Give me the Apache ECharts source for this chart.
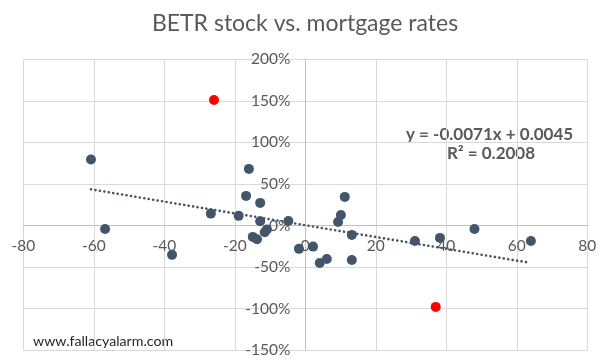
<!DOCTYPE html>
<html><head><meta charset="utf-8">
<script src="https://cdn.jsdelivr.net/npm/echarts@6/dist/echarts.min.js"></script>
<style>html,body{margin:0;padding:0;background:#fff}#c{width:610px;height:363px}</style>
</head><body><div id="c"></div>
<script>
// Data (x: mortgage rate change, y: BETR stock change in %)
const blueX = [-60.8, -56.8, -37.8, -26.8, -18.9, -16.0, -16.8, -12.8, -12.8, -14.9, -13.7, -11.5, -10.9, -4.8, -1.8, 2.2, 4.1, 6.1, 9.3, 10.1, 11.2, 13.2, 13.2, 31.1, 38.2, 48.0, 64.0];
const blueY = [79.4, -4, -35.2, 14.4, 11.7, 68.2, 35.7, 27.3, 5.2, -13.6, -16.5, -8, -4.8, 5.6, -28, -25.3, -44.9, -40.1, 4.4, 12.8, 34.5, -11.2, -41.3, -18.5, -14.8, -4, -18.5];
const redX = [-25.9, 37.0];
const redY = [151, -97.8];
const trendX = [-60.8, 63.5];
const trendY = [43.6, -44.6];
const xTicks = [-80, -60, -40, -20, 0, 20, 40, 60, 80];
const yTicks = [-150, -100, -50, 0, 50, 100, 150, 200];
const title = 'BETR stock vs. mortgage rates';
const eqLine1 = 'y = -0.0071x + 0.0045';
const eqLine2 = 'R² = 0.2008';
const watermark = 'www.fallacyalarm.com';

const FONT = 'Lato';
const G = {left: 23.3, right: 22.7, top: 59.3, bottom: 12.7};
const W = 610, H = 363;
const plotW = W - G.left - G.right, plotH = H - G.top - G.bottom;
const xMin = xTicks[0], xMax = xTicks[xTicks.length - 1];
const yMin = yTicks[0], yMax = yTicks[yTicks.length - 1];
// shift axes so they cross at zero
const xAxisOffset = -plotH * (0 - yMin) / (yMax - yMin);
const yAxisOffset = -plotW * (0 - xMin) / (xMax - xMin);

const chart = echarts.init(document.getElementById('c'), null, {renderer: 'canvas'});
const zip = (a, b) => a.map((v, i) => [v, b[i]]);
chart.setOption({
  animation: false,
  backgroundColor: '#fff',
  title: {
    text: title, left: 'center', top: 7,
    textStyle: {fontFamily: FONT, fontSize: 23, fontWeight: 'normal', color: '#595959'}
  },
  grid: Object.assign({outerBoundsMode: 'none', containLabel: false}, G),
  xAxis: {
    type: 'value', min: xMin, max: xMax, interval: 20, position: 'bottom', offset: xAxisOffset,
    axisLine: {onZero: false, lineStyle: {color: '#BFBFBF', width: 1}},
    axisTick: {show: false},
    axisLabel: {fontFamily: FONT, fontSize: 15.5, color: '#595959', margin: 12, showMinLabel: true, showMaxLabel: true},
    splitLine: {show: true, lineStyle: {color: '#D9D9D9', width: 1}}
  },
  yAxis: {
    type: 'value', min: yMin, max: yMax, interval: 50, position: 'left', offset: yAxisOffset,
    axisLine: {onZero: false, lineStyle: {color: '#BFBFBF', width: 1}},
    axisTick: {show: false},
    axisLabel: {fontFamily: FONT, fontSize: 15.5, color: '#595959', margin: 15, formatter: v => v + '%', showMinLabel: true, showMaxLabel: true},
    splitLine: {show: true, lineStyle: {color: '#D9D9D9', width: 1}}
  },
  graphic: [
    {type: 'text', left: 406, top: 126, style: {text: eqLine1, font: 'bold 17px ' + FONT, fill: '#595959'}},
    {type: 'text', left: 447, top: 145, style: {text: eqLine2, font: 'bold 17px ' + FONT, fill: '#595959'}},
    {type: 'text', left: 33, top: 334, style: {text: watermark, font: '14.2px ' + FONT, fill: '#262626'}}
  ],
  series: [
    {
      type: 'line', data: zip(trendX, trendY), symbol: 'none', silent: true, z: 3,
      lineStyle: {color: '#44546A', width: 2.6, type: [0.1, 4.4], cap: 'round'}
    },
    {
      type: 'scatter', data: zip(blueX, blueY), symbol: 'circle', symbolSize: 10, z: 4,
      itemStyle: {color: '#44546A', opacity: 1}
    },
    {
      type: 'scatter', data: zip(redX, redY), symbol: 'circle', symbolSize: 10, z: 5,
      itemStyle: {color: '#FF0000', opacity: 1}
    }
  ]
});
</script></body></html>
